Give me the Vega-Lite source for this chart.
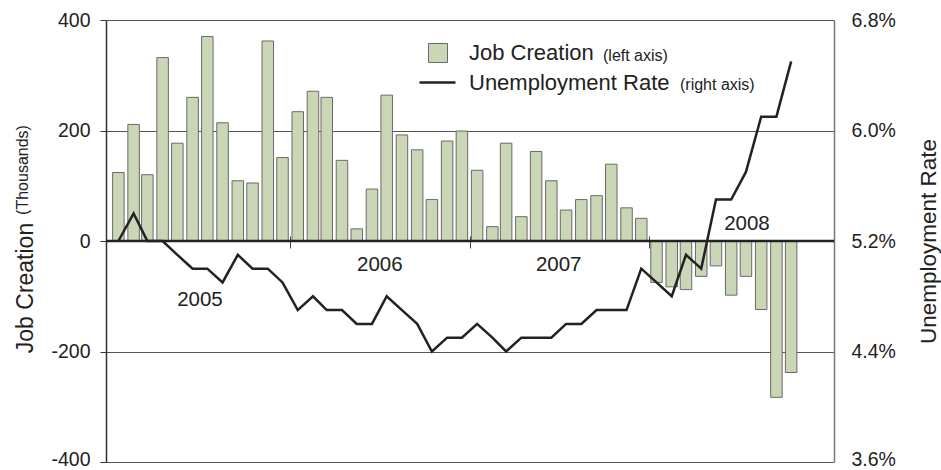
{
  "$schema": "https://vega.github.io/schema/vega-lite/v6.json",
  "width": 728,
  "height": 442,
  "autosize": {"type": "none"},
  "padding": {"left": 106, "top": 20, "right": 107, "bottom": 8},
  "background": "white",
  "config": {
    "font": "Liberation Sans",
    "view": {"stroke": null}
  },
  "datasets": {
    "monthly": [
      {"date": "2005-01-16", "jobs": 124, "rate": 5.2},
      {"date": "2005-02-16", "jobs": 211, "rate": 5.4},
      {"date": "2005-03-16", "jobs": 120, "rate": 5.2},
      {"date": "2005-04-16", "jobs": 332, "rate": 5.2},
      {"date": "2005-05-16", "jobs": 177, "rate": 5.1},
      {"date": "2005-06-16", "jobs": 260, "rate": 5.0},
      {"date": "2005-07-16", "jobs": 370, "rate": 5.0},
      {"date": "2005-08-16", "jobs": 214, "rate": 4.9},
      {"date": "2005-09-16", "jobs": 109, "rate": 5.1},
      {"date": "2005-10-16", "jobs": 105, "rate": 5.0},
      {"date": "2005-11-16", "jobs": 362, "rate": 5.0},
      {"date": "2005-12-16", "jobs": 151, "rate": 4.9},
      {"date": "2006-01-16", "jobs": 234, "rate": 4.7},
      {"date": "2006-02-16", "jobs": 271, "rate": 4.8},
      {"date": "2006-03-16", "jobs": 260, "rate": 4.7},
      {"date": "2006-04-16", "jobs": 146, "rate": 4.7},
      {"date": "2006-05-16", "jobs": 22, "rate": 4.6},
      {"date": "2006-06-16", "jobs": 94, "rate": 4.6},
      {"date": "2006-07-16", "jobs": 264, "rate": 4.8},
      {"date": "2006-08-16", "jobs": 192, "rate": 4.7},
      {"date": "2006-09-16", "jobs": 165, "rate": 4.6},
      {"date": "2006-10-16", "jobs": 75, "rate": 4.4},
      {"date": "2006-11-16", "jobs": 181, "rate": 4.5},
      {"date": "2006-12-16", "jobs": 199, "rate": 4.5},
      {"date": "2007-01-16", "jobs": 128, "rate": 4.6},
      {"date": "2007-02-16", "jobs": 26, "rate": 4.5},
      {"date": "2007-03-16", "jobs": 177, "rate": 4.4},
      {"date": "2007-04-16", "jobs": 44, "rate": 4.5},
      {"date": "2007-05-16", "jobs": 162, "rate": 4.5},
      {"date": "2007-06-16", "jobs": 109, "rate": 4.5},
      {"date": "2007-07-16", "jobs": 56, "rate": 4.6},
      {"date": "2007-08-16", "jobs": 75, "rate": 4.6},
      {"date": "2007-09-16", "jobs": 82, "rate": 4.7},
      {"date": "2007-10-16", "jobs": 139, "rate": 4.7},
      {"date": "2007-11-16", "jobs": 60, "rate": 4.7},
      {"date": "2007-12-16", "jobs": 41, "rate": 5.0},
      {"date": "2008-01-16", "jobs": -75, "rate": 4.9},
      {"date": "2008-02-16", "jobs": -83, "rate": 4.8},
      {"date": "2008-03-16", "jobs": -88, "rate": 5.1},
      {"date": "2008-04-16", "jobs": -64, "rate": 5.0},
      {"date": "2008-05-16", "jobs": -45, "rate": 5.5},
      {"date": "2008-06-16", "jobs": -98, "rate": 5.5},
      {"date": "2008-07-16", "jobs": -64, "rate": 5.7},
      {"date": "2008-08-16", "jobs": -124, "rate": 6.1},
      {"date": "2008-09-16", "jobs": -283, "rate": 6.1},
      {"date": "2008-10-16", "jobs": -238, "rate": 6.5}
    ],
    "years": [
      {"date": "2005-07-01", "jobs": -106, "label": "2005"},
      {"date": "2006-07-02", "jobs": -43, "label": "2006"},
      {"date": "2007-07-01", "jobs": -43, "label": "2007"},
      {"date": "2008-07-18", "jobs": 31, "label": "2008"}
    ]
  },
  "layer": [
    {
      "layer": [
        {
          "data": {"name": "monthly"},
          "mark": {"type": "bar", "width": 11.5, "stroke": "#6a6a6a", "strokeWidth": 1},
          "encoding": {
            "x": {
              "field": "date",
              "type": "temporal",
              "scale": {
                "type": "utc",
                "nice": false,
                "domain": [
                  {"year": 2005, "month": 1, "date": 1, "utc": true},
                  {"year": 2009, "month": 1, "date": 1, "utc": true}
                ]
              },
              "axis": {
                "values": [
                  {"year": 2006, "month": 1, "date": 1, "utc": true},
                  {"year": 2007, "month": 1, "date": 1, "utc": true},
                  {"year": 2008, "month": 1, "date": 1, "utc": true}
                ],
                "labels": false,
                "domain": false,
                "grid": false,
                "ticks": true,
                "tickSize": 12,
                "tickColor": "#444",
                "tickWidth": 1,
                "offset": -226,
                "title": "(Thousands)",
                "titleFontSize": 16,
                "titleFontWeight": "normal",
                "titleColor": "#222",
                "titleX": -79,
                "titleY": -66.5,
                "titleAngle": 270,
                "titleAlign": "center",
                "titleBaseline": "alphabetic"
              }
            },
            "y": {
              "field": "jobs",
              "type": "quantitative",
              "scale": {"domain": [-400, 400], "nice": false, "zero": false},
              "axis": {
                "values": [-400, -200, 0, 200, 400],
                "labelExpr": "datum.value < 0 ? '-' + format(-datum.value, 'd') : format(datum.value, 'd')",
                "grid": true,
                "gridColor": "#555",
                "gridWidth": 1,
                "domainColor": "#333",
                "domainWidth": 1.5,
                "tickColor": "#333",
                "tickSize": 6,
                "labelFontSize": 19.5,
                "labelColor": "#222",
                "labelPadding": 10,
                "labelFlush": false,
                "labelOffset": {"condition": {"test": "datum.value == -400", "value": -3}, "value": 0},
                "title": "Job Creation",
                "titleFontSize": 23,
                "titleFontWeight": "normal",
                "titleColor": "#222",
                "titleX": -74,
                "titleY": 267.5,
                "titleAngle": 270,
                "titleAlign": "center",
                "titleBaseline": "alphabetic"
              }
            },
            "fill": {
              "datum": "Job Creation",
              "scale": {"range": ["#c9d7b6"]},
              "legend": {
                "orient": "none",
                "legendX": 321,
                "legendY": 22,
                "padding": 0,
                "title": "(left axis)",
                "titleOrient": "right",
                "titleFontSize": 16,
                "titleFontWeight": "normal",
                "titleColor": "#222",
                "titlePadding": 9,
                "titleBaseline": "line-top",
                "titleLineHeight": 6,
                "titleAnchor": "middle",
                "labelFontSize": 22,
                "labelColor": "#222",
                "labelLimit": 400,
                "labelOffset": 20,
                "symbolType": "square",
                "symbolSize": 361,
                "symbolStrokeColor": "#6a6a6a",
                "symbolStrokeWidth": 1
              }
            }
          }
        },
        {
          "data": {"values": [{}]},
          "mark": {"type": "rule", "color": "#222", "strokeWidth": 2.5},
          "encoding": {"y": {"datum": 0}}
        },
        {
          "data": {"name": "years"},
          "mark": {"type": "text", "fontSize": 20.5, "color": "#222", "align": "center", "baseline": "middle"},
          "encoding": {
            "x": {"field": "date", "type": "temporal"},
            "y": {"field": "jobs", "type": "quantitative"},
            "text": {"field": "label"}
          }
        }
      ]
    },
    {
      "data": {"name": "monthly"},
      "mark": {"type": "line", "strokeWidth": 2.5},
      "encoding": {
        "x": {"field": "date", "type": "temporal"},
        "y": {
          "field": "rate",
          "type": "quantitative",
          "scale": {"domain": [3.6, 6.8], "nice": false, "zero": false},
          "axis": {
            "values": [3.6, 4.4, 5.2, 6.0, 6.8],
            "labelExpr": "format(datum.value, '.1f') + '%'",
            "grid": false,
            "ticks": false,
            "domainColor": "#777",
            "domainWidth": 1.5,
            "labelFontSize": 19.5,
            "labelColor": "#222",
            "labelPadding": 17,
            "labelFlush": false,
            "labelOffset": {"condition": {"test": "datum.value < 3.7", "value": -3}, "value": 0},
            "title": "Unemployment Rate",
            "titleFontSize": 22.5,
            "titleFontWeight": "normal",
            "titleColor": "#222",
            "titleX": 101,
            "titleY": 221,
            "titleAngle": 270,
            "titleAlign": "center",
            "titleBaseline": "alphabetic"
          }
        },
        "stroke": {
          "datum": "Unemployment Rate",
          "scale": {"range": ["#222222"]},
          "legend": {
            "orient": "none",
            "legendX": 312,
            "legendY": 43,
            "padding": 0,
            "title": "(right axis)",
            "titleOrient": "right",
            "titleFontSize": 16,
            "titleFontWeight": "normal",
            "titleColor": "#222",
            "titlePadding": 10,
            "titleBaseline": "line-top",
            "titleLineHeight": 14,
            "titleAnchor": "middle",
            "labelFontSize": 22,
            "labelColor": "#222",
            "labelLimit": 400,
            "labelOffset": 12,
            "symbolType": "stroke",
            "symbolSize": 1296,
            "symbolStrokeWidth": 2.5
          }
        }
      }
    }
  ],
  "resolve": {"scale": {"y": "independent"}}
}
